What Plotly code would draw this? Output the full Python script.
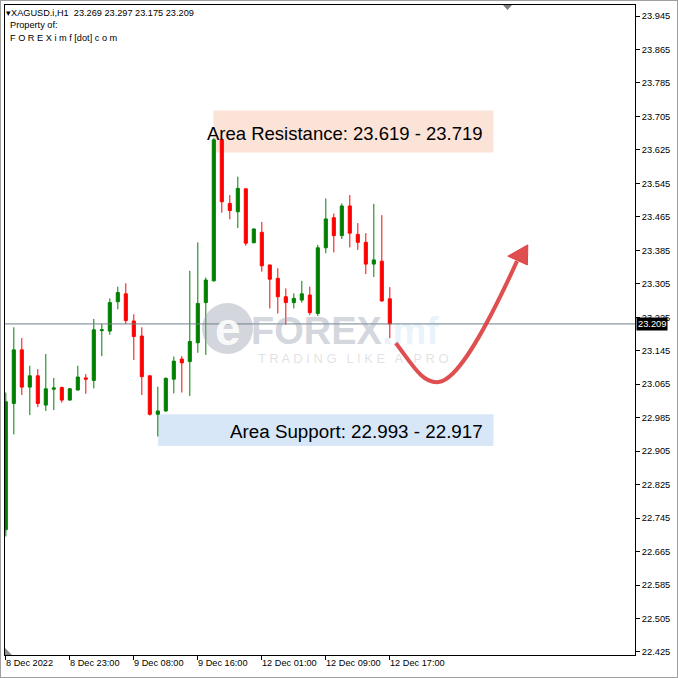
import plotly.graph_objects as go

# ---------------- data ----------------
bar_index = list(range(49))
opens = [22.717, 23.019, 23.147, 23.058, 23.085, 23.015, 23.053, 23.057, 23.027, 23.051,
         23.080, 23.074, 23.193, 23.192, 23.262, 23.281, 23.216, 23.180, 23.085, 22.993,
         23.001, 23.077, 23.125, 23.119, 23.164, 23.260, 23.312, 23.650, 23.497, 23.477,
         23.532, 23.403, 23.428, 23.350, 23.318, 23.274, 23.260, 23.266, 23.278, 23.234,
         23.391, 23.463, 23.420, 23.491, 23.423, 23.404, 23.352, 23.359, 23.269]
highs = [23.045, 23.201, 23.175, 23.109, 23.101, 23.137, 23.080, 23.059, 23.056, 23.109,
         23.089, 23.221, 23.209, 23.270, 23.298, 23.306, 23.232, 23.201, 23.085, 23.059,
         23.081, 23.131, 23.132, 23.336, 23.404, 23.320, 23.653, 23.653, 23.517, 23.561,
         23.532, 23.437, 23.453, 23.350, 23.342, 23.294, 23.282, 23.312, 23.298, 23.398,
         23.509, 23.473, 23.497, 23.517, 23.450, 23.426, 23.496, 23.469, 23.297]
lows = [22.701, 22.945, 23.039, 22.991, 23.010, 23.001, 23.003, 23.021, 23.026, 23.050,
        23.042, 23.055, 23.132, 23.183, 23.244, 23.209, 23.123, 23.039, 22.990, 22.940,
        22.999, 23.043, 23.045, 23.037, 23.140, 23.135, 23.310, 23.475, 23.459, 23.438,
        23.396, 23.402, 23.334, 23.246, 23.234, 23.207, 23.246, 23.260, 23.230, 23.228,
        23.378, 23.380, 23.412, 23.392, 23.386, 23.328, 23.321, 23.262, 23.175]
closes = [23.023, 23.147, 23.058, 23.085, 23.019, 23.054, 23.056, 23.027, 23.054, 23.082,
          23.077, 23.195, 23.195, 23.260, 23.284, 23.217, 23.179, 23.083, 22.993, 23.001,
          23.079, 23.120, 23.116, 23.167, 23.258, 23.314, 23.649, 23.501, 23.480, 23.533,
          23.402, 23.436, 23.348, 23.316, 23.274, 23.260, 23.270, 23.281, 23.236, 23.391,
          23.460, 23.420, 23.491, 23.426, 23.404, 23.352, 23.362, 23.264, 23.209]

time_tick_index = [0, 8, 16, 24, 32, 40, 48]
time_tick_labels = ["8 Dec 2022", "8 Dec 23:00", "9 Dec 08:00", "9 Dec 16:00",
                    "12 Dec 01:00", "12 Dec 09:00", "12 Dec 17:00"]
price_ticks = [22.425, 22.505, 22.585, 22.665, 22.745, 22.825, 22.905, 22.985, 23.065,
               23.145, 23.225, 23.305, 23.385, 23.465, 23.545, 23.625, 23.705, 23.785,
               23.865, 23.945]
price_tick_labels = ["22.425", "22.505", "22.585", "22.665", "22.745", "22.825", "22.905",
                     "22.985", "23.065", "23.145", "23.225", "23.305", "23.385", "23.465",
                     "23.545", "23.625", "23.705", "23.785", "23.865", "23.945"]

symbol = "XAGUSD.i,H1"
last_price = 23.209
resistance_zone = [23.619, 23.719]
support_zone = [22.917, 22.993]
zone_start_index = {"res": 26, "sup": 19}
zone_end_index = 61
resistance_label = "Area Resistance: 23.619 - 23.719"
support_label = "Area Support: 22.993 - 22.917"

# projected path drawn by hand on the chart (bar index, price)
arrow_curve = [(48.75, 23.1635), (50.9, 23.109), (52.1, 23.066), (54.1, 23.070),
               (56.25, 23.075), (59.4, 23.171), (63.9, 23.359)]
arrow_head = [(65.25, 23.398), (62.75, 23.371), (65.2, 23.350)]

X_RANGE = [-0.1, 78.65]
Y_RANGE = [22.4177, 23.9713]

FONT = "Liberation Sans, Arial, sans-serif"
GREEN = "#008000"
RED = "#ff0000"

fig = go.Figure()
fig.add_trace(go.Candlestick(
    x=bar_index, open=opens, high=highs, low=lows, close=closes,
    increasing=dict(line=dict(color=GREEN, width=1), fillcolor=GREEN),
    decreasing=dict(line=dict(color=RED, width=1), fillcolor=RED),
    whiskerwidth=0, hoverinfo="skip", showlegend=False,
))

# helpers to place decorations in pixel space of the 678x678 canvas
L, R, T, B = 5, 43, 5, 23
PW, PH = 678 - L - R, 678 - T - B


def px(x):
    return (x - L) / PW


def py(y):
    return (678 - B - y) / PH


shapes = []
# zones
shapes.append(dict(type="rect", xref="x", yref="y", layer="below",
                   x0=zone_start_index["res"] - 0.04, x1=zone_end_index - 0.04,
                   y0=resistance_zone[0], y1=resistance_zone[1],
                   fillcolor="#fce3d8", line=dict(width=0)))
shapes.append(dict(type="rect", xref="x", yref="y", layer="below",
                   x0=zone_start_index["sup"] + 0.04, x1=zone_end_index - 0.04,
                   y0=support_zone[0], y1=support_zone[1],
                   fillcolor="#d7e7f8", line=dict(width=0)))

# watermark logo disk
shapes.append(dict(type="circle", xref="paper", yref="paper", layer="above",
                   x0=px(202), x1=px(253), y0=py(354), y1=py(303),
                   fillcolor="rgba(150,158,175,0.42)", line=dict(width=0)))

# current price line
shapes.append(dict(type="line", xref="paper", yref="y", x0=0, x1=1,
                   y0=last_price, y1=last_price, layer="above",
                   line=dict(color="#6f7f8a", width=1)))

# projection arrow
p = arrow_curve
path = (f"M {p[0][0]},{p[0][1]} C {p[1][0]},{p[1][1]} {p[2][0]},{p[2][1]} {p[3][0]},{p[3][1]} "
        f"C {p[4][0]},{p[4][1]} {p[5][0]},{p[5][1]} {p[6][0]},{p[6][1]}")
shapes.append(dict(type="path", xref="x", yref="y", path=path, layer="above",
                   line=dict(color="rgba(220,60,60,0.9)", width=4)))
h = arrow_head
shapes.append(dict(type="path", xref="x", yref="y", layer="above",
                   path=f"M {h[0][0]},{h[0][1]} L {h[1][0]},{h[1][1]} L {h[2][0]},{h[2][1]} Z",
                   fillcolor="rgba(220,60,60,0.9)", line=dict(color="rgba(220,60,60,0.9)", width=1)))

# small MT4 markers
shapes.append(dict(type="path", xref="paper", yref="paper",
                   path=f"M {px(503)},{py(5)} L {px(512)},{py(5)} L {px(507.5)},{py(10)} Z",
                   fillcolor="#7d7d7d", line=dict(width=0)))
shapes.append(dict(type="path", xref="paper", yref="paper",
                   path=f"M {px(5)},{py(648)} L {px(5)},{py(655)} L {px(12)},{py(655)} Z",
                   fillcolor="#8a8a8a", line=dict(width=0)))
# outer window frame
shapes.append(dict(type="rect", xref="paper", yref="paper",
                   x0=px(0), x1=px(678), y0=py(678), y1=py(0),
                   line=dict(color="#a0a0a0", width=2), fillcolor="rgba(0,0,0,0)"))

annotations = []
# header
annotations.append(dict(xref="paper", yref="paper", x=px(4), y=py(13), xanchor="left",
                        yanchor="middle", showarrow=False,
                        text=f"\u25be{symbol}\u00a0 23.269 23.297 23.175 23.209",
                        font=dict(family=FONT, size=9.2, color="black")))
annotations.append(dict(xref="paper", yref="paper", x=px(8), y=py(25.5), xanchor="left",
                        yanchor="middle", showarrow=False, text="Property of:",
                        font=dict(family=FONT, size=9.2, color="black")))
annotations.append(dict(xref="paper", yref="paper", x=px(8), y=py(38), xanchor="left",
                        yanchor="middle", showarrow=False,
                        text="F O R E X i m f [dot] c o m",
                        font=dict(family=FONT, size=9.2, color="black")))

# zone labels
annotations.append(dict(xref="x", yref="y", x=59.9, y=23.665, xanchor="right",
                        yanchor="middle", showarrow=False, text=resistance_label,
                        font=dict(family=FONT, size=18.5, color="black")))
annotations.append(dict(xref="x", yref="y", x=59.9, y=22.952, xanchor="right",
                        yanchor="middle", showarrow=False, text=support_label,
                        font=dict(family=FONT, size=18.8, color="black")))

# watermark
annotations.append(dict(xref="paper", yref="paper", x=px(227.5), y=py(329), xanchor="center",
                        yanchor="middle", showarrow=False, text="<b>e</b>",
                        font=dict(family=FONT, size=46, color="rgba(255,255,255,0.9)")))
annotations.append(dict(xref="paper", yref="paper", x=px(249), y=py(331), xanchor="left",
                        yanchor="middle", showarrow=False,
                        text="<b>FOREX</b><b><span style='color:rgba(120,180,220,0.38)'>.mf</span></b>",
                        font=dict(family=FONT, size=38, color="rgba(150,158,175,0.42)")))
annotations.append(dict(xref="paper", yref="paper", x=px(353), y=py(358.5), xanchor="center",
                        yanchor="middle", showarrow=False,
                        text="T R A D I N G\u2002 L I K E\u2002 A\u2002 P R O",
                        font=dict(family=FONT, size=13, color="rgba(160,160,172,0.32)")))

# time axis labels (left-aligned at the tick, MT4 style)
for idx, lab in zip(time_tick_index, time_tick_labels):
    annotations.append(dict(xref="x", yref="paper", x=idx, y=py(663.5), xanchor="left",
                            yanchor="middle", showarrow=False, text=lab, xshift=-2,
                            font=dict(family=FONT, size=9.2, color="black")))

# last price tag
annotations.append(dict(xref="paper", yref="y", x=px(636), y=last_price, xanchor="left",
                        yanchor="middle", showarrow=False, text=f"{last_price:.3f}",
                        bgcolor="black", borderpad=1,
                        font=dict(family=FONT, size=9.3, color="white")))

fig.update_layout(
    width=678, height=678,
    margin=dict(l=L, r=R, t=T, b=B, pad=0),
    paper_bgcolor="white", plot_bgcolor="white",
    boxgap=0.45,
    showlegend=False,
    hovermode=False,
    shapes=shapes,
    annotations=annotations,
    xaxis=dict(range=X_RANGE, rangeslider=dict(visible=False), showgrid=False,
               zeroline=False, showline=True, linecolor="black", linewidth=1, mirror=True,
               tickvals=time_tick_index, ticktext=[""] * len(time_tick_index),
               ticks="outside", ticklen=4, tickcolor="black", fixedrange=True),
    yaxis=dict(range=Y_RANGE, side="right", showgrid=False, zeroline=False,
               showline=True, linecolor="black", linewidth=1, mirror=True,
               tickvals=price_ticks, ticktext=price_tick_labels,
               ticks="outside", ticklen=4, tickcolor="black", fixedrange=True,
               tickfont=dict(family=FONT, size=9.3, color="black")),
)

fig.write_html("out.html", config={"displayModeBar": False, "staticPlot": True},
               post_script="document.body.style.margin='0';document.body.style.overflow='hidden';")
